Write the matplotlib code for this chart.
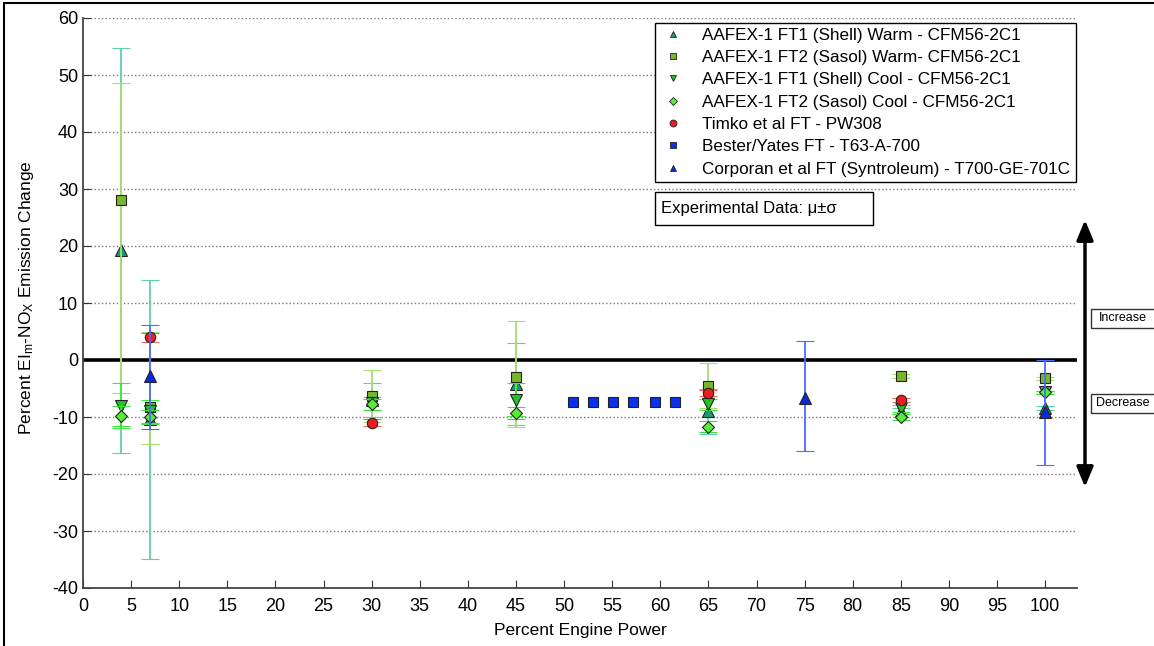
import matplotlib
matplotlib.use('Agg')
from matplotlib import pyplot as plt
from matplotlib.lines import Line2D
from matplotlib.patches import Rectangle

plt.rcParams['font.family'] = ['Liberation Sans', 'DejaVu Sans']
plt.rcParams['mathtext.fontset'] = 'custom'
plt.rcParams['mathtext.rm'] = 'Liberation Sans'
plt.rcParams['mathtext.it'] = 'Liberation Sans'
plt.rcParams['axes.unicode_minus'] = False

# AAFEX-1 points (percent engine power)
aafex_x = [4, 7, 30, 45, 65, 85, 100]

ft1_warm = [19.3, -10.4, -7.0, -4.2, -9.0, -9.0, -8.4]
ft1_warm_lo = [35.6, 24.5, 3.0, 7.2, 3.9, 0.5, 0.4]
ft1_warm_hi = [35.4, 24.5, 3.0, 7.2, 3.9, 0.5, 0.4]

ft2_warm = [28.0, -8.2, -6.3, -3.0, -4.5, -2.8, -3.2]
ft2_warm_lo = [33.8, 6.6, 4.6, 8.8, 4.0, 0.4, 0.3]
ft2_warm_hi = [20.6, 13.2, 4.6, 9.8, 4.0, 0.4, 0.3]

ft1_cool = [-8.0, -9.0, -7.6, -7.0, -7.8, -8.5, -5.7]
ft1_cool_sd = [4.0, 2.0, 1.1, 2.9, 1.0, 0.6, 0.3]

ft2_cool = [-9.8, -10.0, -7.8, -9.3, -11.7, -10.0, -5.7]
ft2_cool_sd = [1.8, 1.2, 1.0, 1.0, 1.0, 0.5, 0.3]

timko_x = [7, 30, 65, 85]
timko = [4.0, -11.0, -5.8, -7.0]
timko_sd = [0.8, 0.6, 0.6, 0.4]

bester_x = [50.9, 53.0, 55.1, 57.2, 59.4, 61.5]
bester = [-7.4, -7.4, -7.4, -7.4, -7.4, -7.4]

corporan_x = [7, 75, 100]
corporan = [-2.8, -6.6, -9.2]
corporan_lo = [9.3, 9.3, 9.3]
corporan_hi = [8.9, 10.0, 9.2]

labels = ['AAFEX-1 FT1 (Shell) Warm - CFM56-2C1',
          'AAFEX-1 FT2 (Sasol) Warm- CFM56-2C1',
          'AAFEX-1 FT1 (Shell) Cool - CFM56-2C1',
          'AAFEX-1 FT2 (Sasol) Cool - CFM56-2C1',
          'Timko et al FT - PW308',
          'Bester/Yates FT - T63-A-700',
          'Corporan et al FT (Syntroleum) - T700-GE-701C']

W, H = 1154, 646
fig = plt.figure(figsize=(W / 100, H / 100), dpi=100)
ax = fig.add_axes([83 / W, 1 - 588 / H, (1077 - 83) / W, (588 - 18) / H])

edge = '#222222'
cap = 6.5
elw = 1.3

def series(x, y, lo, hi, marker, fc, ec, ms, z):
    ax.errorbar(x, y, yerr=[lo, hi], fmt=marker, ms=ms, mfc=fc, mec=edge, mew=0.8,
                ecolor=ec, elinewidth=elw, capsize=cap, capthick=elw, zorder=z)

series(aafex_x, ft1_warm, ft1_warm_lo, ft1_warm_hi, '^', '#179c74', '#5fcfae', 8, 3)
series(aafex_x, ft2_warm, ft2_warm_lo, ft2_warm_hi, 's', '#77b82a', '#a9dc72', 7, 4)
series(aafex_x, ft1_cool, ft1_cool_sd, ft1_cool_sd, 'v', '#22c422', '#3dea3d', 8, 5)
series(aafex_x, ft2_cool, ft2_cool_sd, ft2_cool_sd, 'D', '#55ee33', '#3ddd3d', 6, 6)
series(timko_x, timko, timko_sd, timko_sd, 'o', '#ee1c1c', '#e86a5a', 7.5, 7)
ax.plot(bester_x, bester, 's', ms=7, mfc='#0a2ff0', mec=edge, mew=0.8, zorder=8)
series(corporan_x, corporan, corporan_lo, corporan_hi, '^', '#0a2ae0', '#4d6bff', 8, 9)

ax.axhline(0, color='black', lw=2.6, zorder=2)

ax.set_xlim(0, 103.3)
ax.set_ylim(-40, 60)
ax.set_xticks(range(0, 101, 5))
ax.set_yticks(range(-40, 61, 10))
ax.tick_params(direction='in', length=6, labelsize=13, color='#333333')
ax.tick_params(axis='x', pad=7)
ax.yaxis.grid(True, linestyle=':', color='#777777', lw=1)
ax.set_axisbelow(True)
for s in ['top', 'right']:
    ax.spines[s].set_visible(False)
for s in ['left', 'bottom']:
    ax.spines[s].set_color('#444444')
    ax.spines[s].set_linewidth(1.3)

ax.set_xlabel('Percent Engine Power', fontsize=12.5, labelpad=6)
ax.set_ylabel(r'Percent EI$_\mathrm{m}$-NO$_\mathrm{X}$ Emission Change', fontsize=12.5)
ax.yaxis.set_label_coords(-0.047, 0.51)

handles = [
    Line2D([], [], ls='', marker='^', ms=5, mfc='#179c74', mec=edge, mew=0.6),
    Line2D([], [], ls='', marker='s', ms=5, mfc='#77b82a', mec=edge, mew=0.6),
    Line2D([], [], ls='', marker='v', ms=5, mfc='#22c422', mec=edge, mew=0.6),
    Line2D([], [], ls='', marker='D', ms=4, mfc='#55ee33', mec=edge, mew=0.6),
    Line2D([], [], ls='', marker='o', ms=5, mfc='#ee1c1c', mec=edge, mew=0.6),
    Line2D([], [], ls='', marker='s', ms=5, mfc='#0a2ff0', mec=edge, mew=0.6),
    Line2D([], [], ls='', marker='^', ms=5, mfc='#0a2ae0', mec=edge, mew=0.6),
]
leg = ax.legend(handles, labels, loc='upper left', bbox_to_anchor=(0.575, 0.992),
                fontsize=12.3, frameon=True, fancybox=False, framealpha=1,
                edgecolor='black', handlelength=1.6, handletextpad=0.9,
                labelspacing=0.43, borderpad=0.3, borderaxespad=0)
leg.get_frame().set_linewidth(1)
leg.set_zorder(20)

# experimental data box
fig.patches.append(Rectangle((655 / W, 1 - 225 / H), 218 / W, 33 / H,
                             transform=fig.transFigure, fill=True, fc='white',
                             ec='black', lw=1, zorder=20))
fig.text(661 / W, 1 - 208.5 / H, 'Experimental Data: \u03bc\u00b1\u03c3', fontsize=12,
         va='center', ha='left', zorder=21)

# increase / decrease arrow
ax.annotate('', xy=(1085 / W, 1 - 487 / H), xytext=(1085 / W, 1 - 220 / H),
            xycoords='figure fraction', textcoords='figure fraction',
            arrowprops=dict(arrowstyle='<|-|>,head_length=1.2,head_width=0.5',
                            color='black', lw=2.5, shrinkA=0, shrinkB=0),
            annotation_clip=False)
for lab, py in [('Increase', 318.5), ('Decrease', 403.5)]:
    fig.patches.append(Rectangle((1091 / W, 1 - (py + 9.5) / H), 66 / W, 19 / H,
                                 transform=fig.transFigure, fill=False,
                                 ec='#333333', lw=1))
    fig.text(1123 / W, 1 - py / H, lab, fontsize=9, ha='center', va='center')

# outer frame
fig.patches.append(Rectangle((4 / W, -0.1), 1.2, 1 - 3 / H + 0.1,
                             transform=fig.transFigure, fill=False,
                             ec='black', lw=1.5))

plt.savefig('out.png', dpi=100)
